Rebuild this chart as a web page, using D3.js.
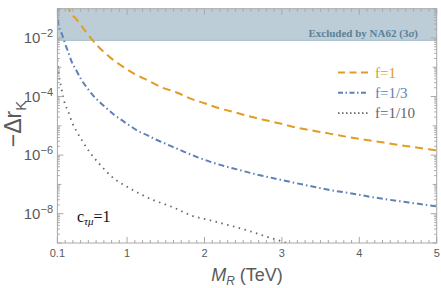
<!DOCTYPE html>
<html>
<head>
<meta charset="utf-8">
<script src="https://cdn.jsdelivr.net/npm/d3@7"></script>
<style>
  body { margin: 0; background: #fff; }
  svg { display: block; }
</style>
</head>
<body>
<svg width="441" height="288"></svg>
<script>
// values: M_R in TeV, -Δr_K
var massF1 = [0.22, 0.24, 0.36, 0.49, 0.63, 0.78, 0.93, 1.1, 1.28, 1.45, 1.64, 1.84, 2.01, 2.2, 2.4, 2.59, 2.79, 2.98, 3.15, 3.35, 3.54, 3.73, 3.93, 4.12, 4.32, 4.51, 4.7, 4.9, 5];
var drF1 = [1.41e-1, 1.06e-1, 3.91e-2, 1.37e-2, 5.04e-3, 2.18e-3, 1.12e-3, 5.85e-4, 3.45e-4, 2.05e-4, 1.38e-4, 8.15e-5, 5.81e-5, 3.91e-5, 2.85e-5, 2.08e-5, 1.56e-5, 1.20e-5, 9.16e-6, 7.24e-6, 5.90e-6, 4.76e-6, 3.85e-6, 3.21e-6, 2.68e-6, 2.22e-6, 1.89e-6, 1.58e-6, 1.43e-6];

var massF3 = [0.101, 0.112, 0.163, 0.198, 0.241, 0.285, 0.341, 0.405, 0.479, 0.557, 0.638, 0.738, 0.836, 0.932, 1.04, 1.14, 1.26, 1.36, 1.47, 1.59, 1.71, 1.95, 2.18, 2.42, 2.67, 2.92, 3.16, 3.41, 3.65, 3.9, 4.14, 4.39, 4.64, 4.89, 5];
var drF3 = [1.26e-1, 3.02e-2, 1.27e-2, 6.58e-3, 3.24e-3, 1.54e-3, 8.20e-4, 3.94e-4, 2.05e-4, 1.12e-4, 6.79e-5, 3.91e-5, 2.36e-5, 1.56e-5, 9.93e-6, 6.68e-6, 4.81e-6, 3.51e-6, 2.64e-6, 1.92e-6, 1.40e-6, 7.76e-7, 4.84e-7, 3.27e-7, 2.20e-7, 1.57e-7, 1.14e-7, 8.34e-8, 6.24e-8, 4.92e-8, 3.79e-8, 2.99e-8, 2.42e-8, 1.95e-8, 1.77e-8];

var massF10 = [0.1, 0.121, 0.147, 0.176, 0.198, 0.233, 0.285, 0.357, 0.435, 0.522, 0.621, 0.716, 0.802, 0.932, 1.06, 1.2, 1.34, 1.47, 1.61, 1.82, 2.07, 2.33, 2.59, 2.81, 3.02, 3.17];
var drF10 = [1.78e-3, 5.12e-4, 2.22e-4, 9.31e-5, 5.50e-5, 3.42e-5, 1.40e-5, 5.90e-6, 2.68e-6, 1.22e-6, 5.81e-7, 3.09e-7, 1.84e-7, 1.06e-7, 6.75e-8, 4.31e-8, 2.90e-8, 2.18e-8, 1.59e-8, 8.89e-9, 5.98e-9, 3.94e-9, 2.52e-9, 1.62e-9, 1.09e-9, 8.1e-10];

var seriesNames = ['f=1', 'f=1/3', 'f=1/10'];
var na62Bound = 8.3e-3;
var xTickLabels = [0.1, 1, 2, 3, 4, 5];
var yTickExps = [-2, -4, -6, -8];

var svg = d3.select('svg'),
    margin = { left: 57.4, right: 4.3, top: 8.7, bottom: 45 },
    width = +svg.attr('width'),
    height = +svg.attr('height');

var x = d3.scaleLinear().domain([0.1, 5]).range([margin.left, width - margin.right]);
var y = d3.scaleLog().domain([1e-9, 1e-1]).range([height - margin.bottom, margin.top]);

var x0 = x.range()[0], x1 = x.range()[1], y0 = y.range()[0], y1 = y.range()[1];
var axisColor = '#a8a8a8', textColor = '#5a5a5a';

svg.append('defs').append('clipPath').attr('id', 'plot')
    .append('rect').attr('x', x0).attr('y', y1).attr('width', x1 - x0).attr('height', y0 - y1);

// excluded band
svg.append('rect')
    .attr('x', x0).attr('y', y1)
    .attr('width', x1 - x0).attr('height', y(na62Bound) - y1)
    .attr('fill', '#bccdd7');
svg.append('line')
    .attr('x1', x0).attr('x2', x1)
    .attr('y1', y(na62Bound)).attr('y2', y(na62Bound))
    .attr('stroke', '#a3bccb').attr('stroke-width', 1);

var ex = svg.append('text')
    .attr('x', 418).attr('y', 37)
    .attr('text-anchor', 'end')
    .attr('font-family', 'Liberation Serif')
    .attr('font-weight', 'bold')
    .attr('font-size', 11)
    .attr('fill', '#5b8199');
ex.append('tspan').text('Excluded by NA62 (3');
ex.append('tspan').attr('font-style', 'italic').text('\u03c3');
ex.append('tspan').text(')');

// curves
var styles = [
    { color: '#e19c24', dash: '8,5', width: 2 },
    { color: '#5e81b5', dash: '6,3,1.5,3', width: 2 },
    { color: '#666666', dash: '1.5,4.5', width: 1.8 }
];
var series = [
    d3.zip(massF1, drF1),
    d3.zip(massF3, drF3),
    d3.zip(massF10, drF10)
];

var line = d3.line()
    .x(function(d) { return x(d[0]); })
    .y(function(d) { return y(d[1]); })
    .curve(d3.curveMonotoneX);

svg.append('g')
        .attr('clip-path', 'url(#plot)')
    .selectAll('path')
    .data(series)
    .enter().append('path')
        .attr('d', line)
        .attr('fill', 'none')
        .attr('stroke', function(d, i) { return styles[i].color; })
        .attr('stroke-width', function(d, i) { return styles[i].width; })
        .attr('stroke-dasharray', function(d, i) { return styles[i].dash; });

// frame
var frame = svg.append('g').attr('stroke', axisColor).attr('stroke-width', 1);
frame.append('rect')
    .attr('x', x0).attr('y', y1)
    .attr('width', x1 - x0).attr('height', y0 - y1)
    .attr('fill', 'none');

// x ticks, minor every 0.1
var xMinor = d3.range(1, 51).map(function(i) { return i / 10; });
xMinor.forEach(function(v) {
    var major = xTickLabels.indexOf(v) >= 0;
    var len = major ? 6 : 3;
    frame.append('line').attr('x1', x(v)).attr('x2', x(v)).attr('y1', y0).attr('y2', y0 - len);
    frame.append('line').attr('x1', x(v)).attr('x2', x(v)).attr('y1', y1).attr('y2', y1 + len);
});

// y ticks
for (var e = -9; e <= -1; e++) {
    for (var k = 1; k <= 9; k++) {
        var v = k * Math.pow(10, e);
        if (v > 1e-1 * 1.0001) continue;
        var len = k === 1 ? (yTickExps.indexOf(e) >= 0 ? 6 : 4) : 2.5;
        frame.append('line').attr('x1', x0).attr('x2', x0 + len).attr('y1', y(v)).attr('y2', y(v));
        frame.append('line').attr('x1', x1).attr('x2', x1 - len).attr('y1', y(v)).attr('y2', y(v));
    }
}

// tick labels
svg.append('g').selectAll('text')
    .data(xTickLabels)
    .enter().append('text')
        .attr('x', function(d) { return x(d); })
        .attr('y', 257)
        .attr('text-anchor', 'middle')
        .attr('font-family', 'Liberation Sans')
        .attr('font-size', 11)
        .attr('fill', textColor)
        .text(function(d) { return d; });

var yl = svg.append('g').selectAll('text')
    .data(yTickExps)
    .enter().append('text')
        .attr('x', 53)
        .attr('y', function(d) { return y(Math.pow(10, d)) + 5; })
        .attr('text-anchor', 'end')
        .attr('font-family', 'Liberation Sans')
        .attr('font-size', 15)
        .attr('fill', textColor);
yl.append('tspan').text('10');
yl.append('tspan')
    .attr('font-size', 11)
    .attr('dy', -6)
    .text(function(d) { return '\u2212' + (-d); });

// axis titles
var xt = svg.append('text')
    .attr('x', 247).attr('y', 281)
    .attr('text-anchor', 'middle')
    .attr('font-family', 'Liberation Sans')
    .attr('font-size', 18)
    .attr('fill', textColor);
xt.append('tspan').attr('font-style', 'italic').text('M');
xt.append('tspan').attr('font-style', 'italic').attr('font-size', 12).attr('dy', 4).text('R');
xt.append('tspan').attr('dy', -4).text(' (TeV)');

var yt = svg.append('text')
    .attr('transform', 'translate(21,124) rotate(-90)')
    .attr('text-anchor', 'middle')
    .attr('font-family', 'Liberation Sans')
    .attr('font-size', 23)
    .attr('fill', textColor);
yt.append('tspan').text('\u2212\u0394r');
yt.append('tspan').attr('font-size', 15).attr('dy', 5).text('K');

// legend
var legend = svg.append('g').selectAll('g')
    .data(seriesNames)
    .enter().append('g')
        .attr('transform', function(d, i) { return 'translate(338,' + (72.5 + i * 20.3) + ')'; });
legend.append('line')
    .attr('x1', 0).attr('x2', 30)
    .attr('stroke', function(d, i) { return styles[i].color; })
    .attr('stroke-width', function(d, i) { return styles[i].width; })
    .attr('stroke-dasharray', function(d, i) { return i === 0 ? '7,4.5' : (i === 1 ? '5,2.5,1.5,2.5' : '1.5,2.5'); });
legend.append('text')
    .attr('x', 37).attr('y', 5)
    .attr('font-family', 'Liberation Serif')
    .attr('font-size', 15)
    .attr('fill', function(d, i) { return styles[i].color; })
    .text(function(d) { return d; });

// coupling label
var cl = svg.append('text')
    .attr('x', 77).attr('y', 222)
    .attr('font-family', 'Liberation Serif')
    .attr('font-size', 16)
    .attr('fill', '#111');
cl.append('tspan').text('c');
cl.append('tspan').attr('font-style', 'italic').attr('font-size', 11).attr('dy', 3).text('\u03c4\u03bc');
cl.append('tspan').attr('dy', -3).text('=1');
</script>
</body>
</html>
